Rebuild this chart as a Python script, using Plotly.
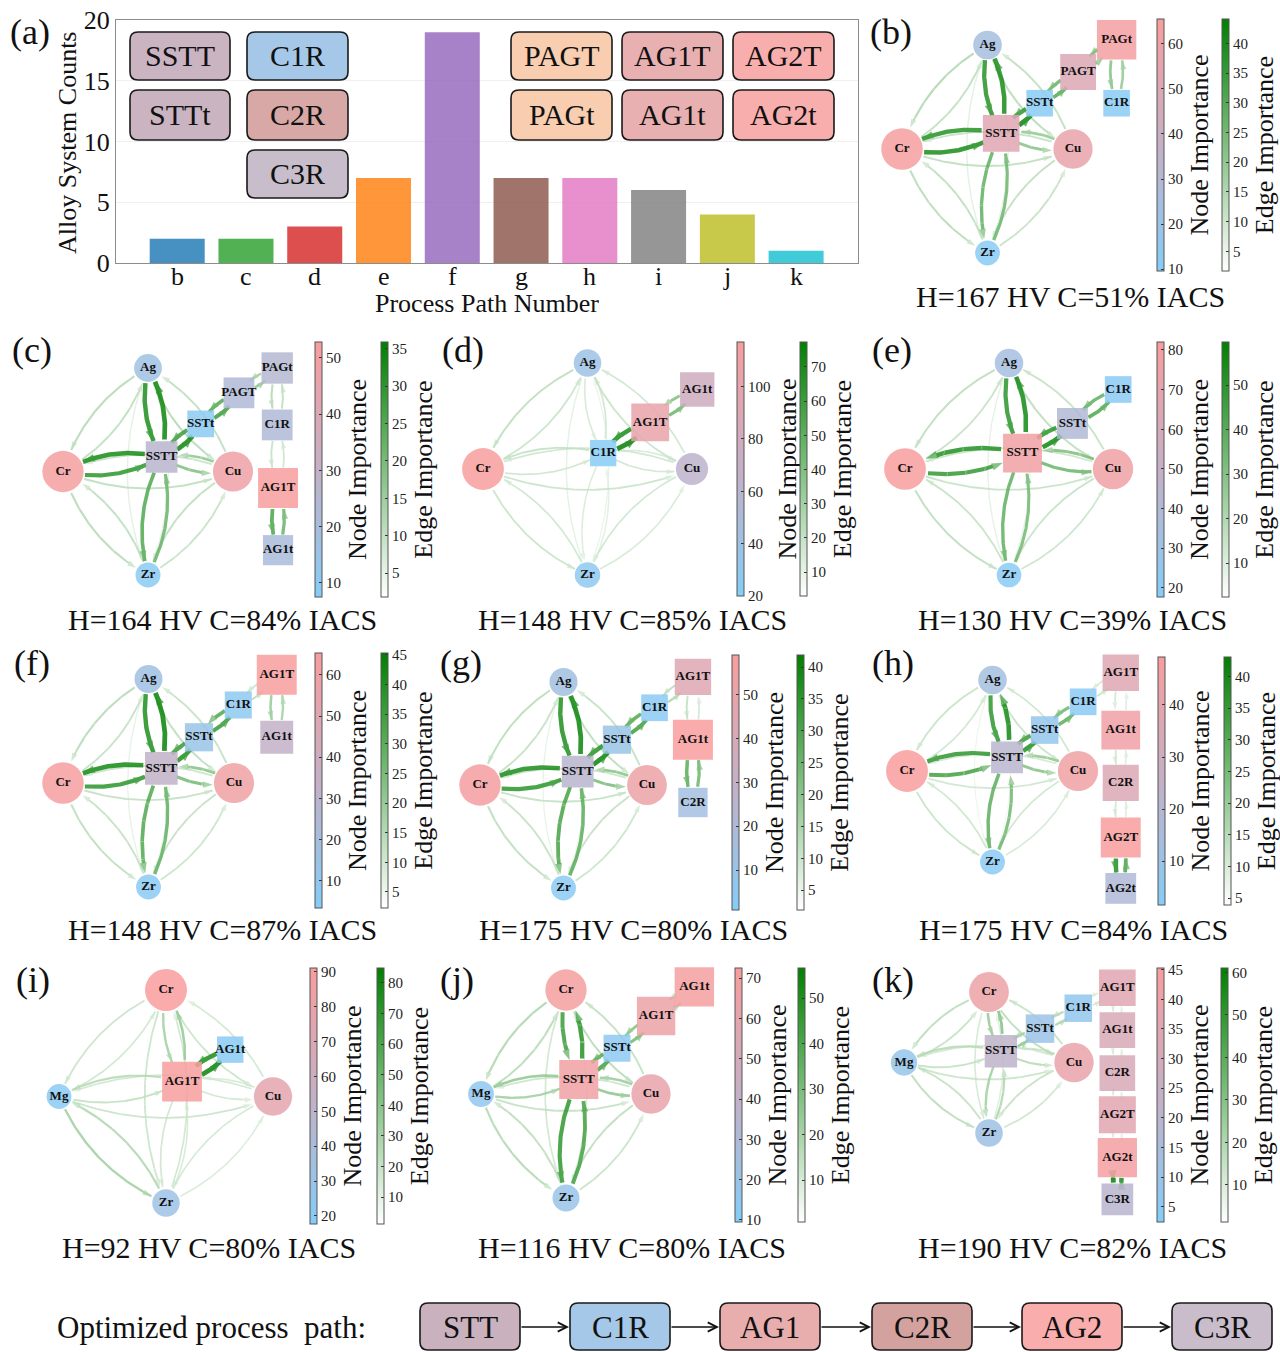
import math
import plotly.graph_objects as go
from plotly.colors import sample_colorscale

W, H = 1280, 1352
SERIF = "Liberation Serif, Times New Roman, serif"

# ---------------- (a) process-path statistics ----------------
path_ids = ['b', 'c', 'd', 'e', 'f', 'g', 'h', 'i', 'j', 'k']
path_counts = [2, 2, 3, 7, 19, 7, 7, 6, 4, 1]
path_colors = ['#1f77b4', '#2ca02c', '#d62728', '#ff7f0e', '#9467bd',
               '#8c564b', '#e377c2', '#7f7f7f', '#bcbd22', '#17becf']

process_labels = ['SSTT', 'STTt', 'C1R', 'C2R', 'C3R',
                  'PAGT', 'PAGt', 'AG1T', 'AG1t', 'AG2T', 'AG2t']
process_fills = ['#cab4c1', '#cab4c1', '#a6c8e8', '#d7a8a5', '#c7bdcb',
                 '#f8cdb0', '#f8cdb0', '#e8b0b0', '#e8b0b0', '#f9aeae', '#f9aeae']

# ---------------- (b)-(k) process networks ----------------
# edge rows: (node_a, node_b, importance a->b, importance b->a)
b_nodes = ['Ag', 'Cr', 'Cu', 'Zr', 'SSTT', 'SSTt', 'PAGT', 'PAGt', 'C1R']
b_node_imp = [24, 64, 57, 12, 52, 12, 49, 63, 12]
b_edges = [('SSTT', 'Ag', 40, 38), ('SSTT', 'Cr', 38, 40), ('SSTT', 'Cu', 22, 20),
           ('SSTT', 'Zr', 28, 26), ('SSTT', 'SSTt', 42, 36), ('SSTt', 'PAGT', 30, 27),
           ('PAGT', 'PAGt', 27, 25), ('PAGt', 'C1R', 22, 20),
           ('Ag', 'Cr', 15, 13), ('Ag', 'Cu', 14, 13), ('Ag', 'Zr', 7, 6),
           ('Cr', 'Cu', 13, 12), ('Cr', 'Zr', 14, 13), ('Cu', 'Zr', 13, 12)]
b_node_range, b_node_ticks = [9.6, 65.5], [10, 20, 30, 40, 50, 60]
b_edge_range, b_edge_ticks = [1.7, 44.1], [5, 10, 15, 20, 25, 30, 35, 40]
b_caption = 'H=167 HV C=51% IACS'

c_nodes = ['Ag', 'Cr', 'Cu', 'Zr', 'SSTT', 'SSTt', 'PAGT', 'PAGt', 'C1R', 'AG1T', 'AG1t']
c_node_imp = [17, 51, 48, 10, 26, 10, 23, 25, 23, 52.5, 21]
c_edges = [('SSTT', 'Ag', 34, 32), ('SSTT', 'Cr', 33, 30), ('SSTT', 'Cu', 19, 17),
           ('SSTT', 'Zr', 25, 22), ('SSTT', 'SSTt', 34, 28), ('SSTt', 'PAGT', 28, 25),
           ('PAGT', 'PAGt', 17, 15), ('PAGt', 'C1R', 12, 11), ('C1R', 'AG1T', 10, 9),
           ('AG1T', 'AG1t', 26, 22),
           ('Ag', 'Cr', 12, 11), ('Ag', 'Cu', 12, 11), ('Ag', 'Zr', 6, 5),
           ('Cr', 'Cu', 11, 10), ('Cr', 'Zr', 12, 11), ('Cu', 'Zr', 11, 10)]
c_node_range, c_node_ticks = [7.5, 52.8], [10, 20, 30, 40, 50]
c_edge_range, c_edge_ticks = [1.8, 35.9], [5, 10, 15, 20, 25, 30, 35]
c_caption = 'H=164 HV C=84% IACS'

d_nodes = ['Ag', 'Cr', 'Cu', 'Zr', 'C1R', 'AG1T', 'AG1t']
d_node_imp = [39, 116, 64, 28, 22, 102, 78]
d_edges = [('C1R', 'AG1T', 76, 70), ('AG1T', 'AG1t', 46, 40),
           ('C1R', 'Ag', 18, 16), ('C1R', 'Cr', 21, 18), ('C1R', 'Cu', 18, 16),
           ('C1R', 'Zr', 15, 13),
           ('Ag', 'Cr', 23, 20), ('Ag', 'Cu', 20, 18), ('Ag', 'Zr', 12, 10),
           ('Cr', 'Cu', 20, 18), ('Cr', 'Zr', 20, 18), ('Cu', 'Zr', 18, 16)]
d_node_range, d_node_ticks = [20, 117], [20, 40, 60, 80, 100]
d_edge_range, d_edge_ticks = [3, 77.3], [10, 20, 30, 40, 50, 60, 70]
d_caption = 'H=148 HV C=85% IACS'

e_nodes = ['Ag', 'Cr', 'Cu', 'Zr', 'SSTT', 'SSTt', 'C1R']
e_node_imp = [34, 81, 76, 20, 77, 40, 21]
e_edges = [('SSTT', 'Ag', 55, 50), ('SSTT', 'Cr', 52, 48), ('SSTT', 'Cu', 36, 32),
           ('SSTT', 'Zr', 38, 34), ('SSTT', 'SSTt', 56, 50), ('SSTt', 'C1R', 42, 38),
           ('Ag', 'Cr', 18, 16), ('Ag', 'Cu', 18, 16), ('Ag', 'Zr', 9, 8),
           ('Cr', 'Cu', 16, 15), ('Cr', 'Zr', 18, 16), ('Cu', 'Zr', 16, 15)]
e_node_range, e_node_ticks = [17.7, 82], [20, 30, 40, 50, 60, 70, 80]
e_edge_range, e_edge_ticks = [2.4, 59.7], [10, 20, 30, 40, 50]
e_caption = 'H=130 HV C=39% IACS'

f_nodes = ['Ag', 'Cr', 'Cu', 'Zr', 'SSTT', 'SSTt', 'C1R', 'AG1T', 'AG1t']
f_node_imp = [17, 63.5, 59, 6.5, 33, 13, 8, 65, 34]
f_edges = [('SSTT', 'Ag', 44, 40), ('SSTT', 'Cr', 42, 38), ('SSTT', 'Cu', 26, 23),
           ('SSTT', 'Zr', 32, 29), ('SSTT', 'SSTt', 40, 36), ('SSTt', 'C1R', 36, 32),
           ('C1R', 'AG1T', 14, 12), ('AG1T', 'AG1t', 20, 18),
           ('Ag', 'Cr', 15, 13), ('Ag', 'Cu', 14, 13), ('Ag', 'Zr', 7, 6),
           ('Cr', 'Cu', 13, 12), ('Cr', 'Zr', 14, 13), ('Cu', 'Zr', 13, 12)]
f_node_range, f_node_ticks = [3.4, 65.3], [10, 20, 30, 40, 50, 60]
f_edge_range, f_edge_ticks = [2.3, 45.3], [5, 10, 15, 20, 25, 30, 35, 40, 45]
f_caption = 'H=148 HV C=87% IACS'

g_nodes = ['Ag', 'Cr', 'Cu', 'Zr', 'SSTT', 'SSTt', 'C1R', 'AG1T', 'AG1t', 'C2R']
g_node_imp = [14, 57, 52, 4, 25, 10, 4, 44, 59, 15]
g_edges = [('SSTT', 'Ag', 40, 37), ('SSTT', 'Cr', 38, 35), ('SSTT', 'Cu', 23, 21),
           ('SSTT', 'Zr', 31, 28), ('SSTT', 'SSTt', 40, 36), ('SSTt', 'C1R', 32, 29),
           ('C1R', 'AG1T', 15, 13), ('AG1T', 'AG1t', 12, 10), ('AG1t', 'C2R', 28, 25),
           ('Ag', 'Cr', 13, 12), ('Ag', 'Cu', 13, 12), ('Ag', 'Zr', 6, 5),
           ('Cr', 'Cu', 12, 11), ('Cr', 'Zr', 13, 12), ('Cu', 'Zr', 12, 11)]
g_node_range, g_node_ticks = [0.9, 59], [10, 20, 30, 40, 50]
g_edge_range, g_edge_ticks = [1.9, 41.9], [5, 10, 15, 20, 25, 30, 35, 40]
g_caption = 'H=175 HV C=80% IACS'

h_nodes = ['Ag', 'Cr', 'Cu', 'Zr', 'SSTT', 'SSTt', 'C1R', 'AG1T', 'AG1t', 'C2R', 'AG2T', 'AG2t']
h_node_imp = [13.5, 49, 44.5, 4, 21.5, 7, 4, 37, 45, 36, 49, 18]
h_edges = [('SSTT', 'Ag', 40, 36), ('SSTT', 'Cr', 36, 33), ('SSTT', 'Cu', 23, 21),
           ('SSTT', 'Zr', 29, 26), ('SSTT', 'SSTt', 38, 34), ('SSTt', 'C1R', 29, 26),
           ('C1R', 'AG1T', 13, 11), ('AG1T', 'AG1t', 12, 10), ('AG1t', 'C2R', 12, 10),
           ('C2R', 'AG2T', 12, 10), ('AG2T', 'AG2t', 38, 32),
           ('Ag', 'Cr', 13, 12), ('Ag', 'Cu', 13, 12), ('Ag', 'Zr', 7, 6),
           ('Cr', 'Cu', 12, 11), ('Cr', 'Zr', 13, 12), ('Cu', 'Zr', 12, 11)]
h_node_range, h_node_ticks = [1.6, 49.2], [10, 20, 30, 40]
h_edge_range, h_edge_ticks = [3.9, 43.1], [5, 10, 15, 20, 25, 30, 35, 40]
h_caption = 'H=175 HV C=84% IACS'

i_nodes = ['Cr', 'Mg', 'Cu', 'Zr', 'AG1T', 'AG1t']
i_node_imp = [91, 21, 76, 32, 90, 20]
i_edges = [('AG1T', 'AG1t', 82, 76), ('AG1T', 'Cr', 36, 32), ('AG1T', 'Mg', 26, 22),
           ('AG1T', 'Cu', 18, 16), ('AG1T', 'Zr', 18, 16),
           ('Cr', 'Mg', 20, 18), ('Cr', 'Cu', 20, 18), ('Cr', 'Zr', 20, 18),
           ('Mg', 'Cu', 20, 18), ('Mg', 'Zr', 32, 28), ('Cu', 'Zr', 17, 15)]
i_node_range, i_node_ticks = [17.7, 91.1], [20, 30, 40, 50, 60, 70, 80, 90]
i_edge_range, i_edge_ticks = [1.2, 84.9], [10, 20, 30, 40, 50, 60, 70, 80]
i_caption = 'H=92 HV C=80% IACS'

j_nodes = ['Cr', 'Mg', 'Cu', 'Zr', 'SSTT', 'SSTt', 'AG1T', 'AG1t']
j_node_imp = [70, 16, 63, 20, 68, 14, 65, 70]
j_edges = [('SSTT', 'Cr', 48, 44), ('SSTT', 'Mg', 25, 22), ('SSTT', 'Cu', 26, 23),
           ('SSTT', 'Zr', 46, 42), ('SSTT', 'SSTt', 42, 38), ('SSTt', 'AG1T', 32, 28),
           ('AG1T', 'AG1t', 22, 18),
           ('Cr', 'Mg', 19, 17), ('Cr', 'Cu', 17, 15), ('Cr', 'Zr', 12, 10),
           ('Mg', 'Cu', 15, 13), ('Mg', 'Zr', 18, 16), ('Cu', 'Zr', 16, 14)]
j_node_range, j_node_ticks = [9.5, 72.5], [10, 20, 30, 40, 50, 60, 70]
j_edge_range, j_edge_ticks = [0.8, 56.6], [10, 20, 30, 40, 50]
j_caption = 'H=116 HV C=80% IACS'

k_nodes = ['Cr', 'Mg', 'Cu', 'Zr', 'SSTT', 'SSTt', 'C1R', 'AG1T', 'AG1t', 'C2R', 'AG2T', 'AG2t', 'C3R']
k_node_imp = [40, 8, 39, 11, 22, 10, 7, 35, 32, 32, 36, 43, 20]
k_edges = [('SSTT', 'Cr', 30, 26), ('SSTT', 'Mg', 19, 16), ('SSTT', 'Cu', 19, 16),
           ('SSTT', 'Zr', 24, 21), ('SSTT', 'SSTt', 28, 24), ('SSTt', 'C1R', 22, 20),
           ('C1R', 'AG1T', 13, 11), ('AG1T', 'AG1t', 12, 10), ('AG1t', 'C2R', 12, 10),
           ('C2R', 'AG2T', 12, 10), ('AG2T', 'AG2t', 12, 10), ('AG2t', 'C3R', 60, 55),
           ('Cr', 'Mg', 18, 16), ('Cr', 'Cu', 18, 16), ('Cr', 'Zr', 12, 10),
           ('Mg', 'Cu', 15, 13), ('Mg', 'Zr', 18, 16), ('Cu', 'Zr', 16, 14)]
k_node_range, k_node_ticks = [2.4, 45.3], [5, 10, 15, 20, 25, 30, 35, 40, 45]
k_edge_range, k_edge_ticks = [1.3, 61], [10, 20, 30, 40, 50, 60]
k_caption = 'H=190 HV C=82% IACS'

optimized_steps = ['STT', 'C1R', 'AG1', 'C2R', 'AG2', 'C3R']
optimized_fills = ['#c9b2be', '#a6c8e8', '#e8adad', '#d4a29e', '#f9adad', '#c9bdcc']

# ---------------- styling ----------------
NODE_SCALE = [[0, '#84cdf8'], [0.5, '#c4b0c6'], [1, '#f99d9d']]
EDGE_SCALE = [[0, '#ffffff'], [1, '#008000']]
ELEMENTS = {'Ag', 'Cr', 'Cu', 'Zr', 'Mg'}

DIAMOND_AG = {'Ag': (0, 1), 'Cr': (-1, 0), 'Cu': (1, 0), 'Zr': (0, -1)}
DIAMOND_CR = {'Cr': (0, 1), 'Mg': (-1, 0), 'Cu': (1, 0), 'Zr': (0, -1)}


def layout_pos(base, extra):
    p = dict(base)
    p.update(extra)
    return p


PANELS = [
    dict(tag='(b)', nodes=b_nodes, imp=b_node_imp, edges=b_edges, nr=b_node_range, nt=b_node_ticks,
         er=b_edge_range, et=b_edge_ticks, cap=b_caption,
         pos=layout_pos(DIAMOND_AG, {'SSTT': (0.16, 0.15), 'SSTt': (0.61, 0.44), 'PAGT': (1.06, 0.74),
                                     'PAGt': (1.51, 1.05), 'C1R': (1.51, 0.44)}),
         frame=(987.5, 149, 85.5, 104), cell=(862, 1150, 2, 284), cb=(1157, 1222, 19, 271),
         cap_xy=(1070, 296), tag_xy=(868, 32)),
    dict(tag='(c)', nodes=c_nodes, imp=c_node_imp, edges=c_edges, nr=c_node_range, nt=c_node_ticks,
         er=c_edge_range, et=c_edge_ticks, cap=c_caption,
         pos=layout_pos(DIAMOND_AG, {'SSTT': (0.16, 0.14), 'SSTt': (0.62, 0.46), 'PAGT': (1.07, 0.76),
                                     'PAGt': (1.52, 1.0), 'C1R': (1.52, 0.45), 'AG1T': (1.53, -0.16),
                                     'AG1t': (1.53, -0.76)}),
         frame=(148, 471.5, 85, 103.5), cell=(2, 312, 336, 600), cb=(315, 381, 342, 597),
         cap_xy=(222, 619), tag_xy=(10, 350)),
    dict(tag='(d)', nodes=d_nodes, imp=d_node_imp, edges=d_edges, nr=d_node_range, nt=d_node_ticks,
         er=d_edge_range, et=d_edge_ticks, cap=d_caption,
         pos=layout_pos(DIAMOND_AG, {'C1R': (0.15, 0.15), 'AG1T': (0.6, 0.44), 'AG1t': (1.05, 0.75)}),
         frame=(587.5, 469, 104.5, 106), cell=(436, 734, 336, 600), cb=(737, 800, 342, 596),
         cap_xy=(632, 619), tag_xy=(440, 350)),
    dict(tag='(e)', nodes=e_nodes, imp=e_node_imp, edges=e_edges, nr=e_node_range, nt=e_node_ticks,
         er=e_edge_range, et=e_edge_ticks, cap=e_caption,
         pos=layout_pos(DIAMOND_AG, {'SSTT': (0.13, 0.15), 'SSTt': (0.61, 0.43), 'C1R': (1.05, 0.75)}),
         frame=(1009, 469, 104, 106), cell=(862, 1154, 336, 600), cb=(1157, 1222, 342, 597),
         cap_xy=(1072, 619), tag_xy=(870, 350)),
    dict(tag='(f)', nodes=f_nodes, imp=f_node_imp, edges=f_edges, nr=f_node_range, nt=f_node_ticks,
         er=f_edge_range, et=f_edge_ticks, cap=f_caption,
         pos=layout_pos(DIAMOND_AG, {'SSTT': (0.15, 0.14), 'SSTt': (0.59, 0.44), 'C1R': (1.05, 0.75),
                                     'AG1T': (1.5, 1.04), 'AG1t': (1.5, 0.44)}),
         frame=(148.5, 783, 85.5, 104), cell=(2, 312, 646, 910), cb=(315, 381, 653, 908),
         cap_xy=(222, 929), tag_xy=(12, 663)),
    dict(tag='(g)', nodes=g_nodes, imp=g_node_imp, edges=g_edges, nr=g_node_range, nt=g_node_ticks,
         er=g_edge_range, et=g_edge_ticks, cap=g_caption,
         pos=layout_pos(DIAMOND_AG, {'SSTT': (0.17, 0.13), 'SSTt': (0.64, 0.44), 'C1R': (1.09, 0.75),
                                     'AG1T': (1.55, 1.05), 'AG1t': (1.55, 0.44), 'C2R': (1.55, -0.17)}),
         frame=(563.5, 785, 83.5, 103), cell=(436, 730, 646, 912), cb=(732, 797, 655, 910),
         cap_xy=(633, 929), tag_xy=(438, 663)),
    dict(tag='(h)', nodes=h_nodes, imp=h_node_imp, edges=h_edges, nr=h_node_range, nt=h_node_ticks,
         er=h_edge_range, et=h_edge_ticks, cap=h_caption,
         pos=layout_pos(DIAMOND_AG, {'SSTT': (0.17, 0.15), 'SSTt': (0.61, 0.45), 'C1R': (1.06, 0.76),
                                     'AG1T': (1.5, 1.08), 'AG1t': (1.5, 0.45), 'C2R': (1.5, -0.13),
                                     'AG2T': (1.5, -0.73), 'AG2t': (1.5, -1.29)}),
         frame=(992.5, 771, 85.5, 91), cell=(862, 1155, 646, 910), cb=(1158, 1224, 657, 905),
         cap_xy=(1073, 929), tag_xy=(870, 663)),
    dict(tag='(i)', nodes=i_nodes, imp=i_node_imp, edges=i_edges, nr=i_node_range, nt=i_node_ticks,
         er=i_edge_range, et=i_edge_ticks, cap=i_caption,
         pos=layout_pos(DIAMOND_CR, {'AG1T': (0.15, 0.14), 'AG1t': (0.6, 0.44)}),
         frame=(166, 1096.5, 107, 106.5), cell=(2, 307, 962, 1228), cb=(310, 377, 968, 1224),
         cap_xy=(209, 1247), tag_xy=(14, 980)),
    dict(tag='(j)', nodes=j_nodes, imp=j_node_imp, edges=j_edges, nr=j_node_range, nt=j_node_ticks,
         er=j_edge_range, et=j_edge_ticks, cap=j_caption,
         pos=layout_pos(DIAMOND_CR, {'SSTT': (0.15, 0.14), 'SSTt': (0.6, 0.44), 'AG1T': (1.06, 0.75),
                                     'AG1t': (1.51, 1.03)}),
         frame=(566, 1094, 85, 104), cell=(436, 732, 962, 1228), cb=(735, 798, 968, 1222),
         cap_xy=(632, 1247), tag_xy=(438, 980)),
    dict(tag='(k)', nodes=k_nodes, imp=k_node_imp, edges=k_edges, nr=k_node_range, nt=k_node_ticks,
         er=k_edge_range, et=k_edge_ticks, cap=k_caption,
         pos=layout_pos(DIAMOND_CR, {'SSTT': (0.14, 0.16), 'SSTt': (0.6, 0.48), 'C1R': (1.05, 0.77),
                                     'AG1T': (1.51, 1.06), 'AG1t': (1.51, 0.46), 'C2R': (1.51, -0.15),
                                     'AG2T': (1.51, -0.74), 'AG2t': (1.51, -1.35), 'C3R': (1.51, -1.94)}),
         frame=(989, 1062.5, 85, 70.5), cell=(862, 1154, 962, 1228), cb=(1157, 1221, 968, 1222),
         cap_xy=(1072, 1247), tag_xy=(870, 980)),
]


def clamp01(t):
    return max(0.0, min(1.0, t))


def node_size(v, lo, hi, elem):
    t = clamp01((v - lo) / (hi - lo))
    return 24 + 18 * t if elem else 26 + 14 * t


def arc_points(p, q, rs, rt, sx, sy, rad=0.2, n=80):
    """Quadratic arc (matplotlib arc3 style) between two nodes, trimmed at node borders."""
    X1, Y1 = p[0] * sx, p[1] * sy
    X2, Y2 = q[0] * sx, q[1] * sy
    mx, my = (X1 + X2) / 2, (Y1 + Y2) / 2
    dx, dy = X2 - X1, Y2 - Y1
    kx, ky = mx + rad * dy, my - rad * dx
    xs, ys = [], []
    for i in range(n + 1):
        t = i / n
        bx = (1 - t) ** 2 * X1 + 2 * (1 - t) * t * kx + t * t * X2
        by = (1 - t) ** 2 * Y1 + 2 * (1 - t) * t * ky + t * t * Y2
        if math.hypot(bx - X1, by - Y1) < rs or math.hypot(bx - X2, by - Y2) < rt:
            continue
        xs.append(bx / sx)
        ys.append(by / sy)
    return xs, ys


def colorbar(left, top, bottom, ticks, title):
    return dict(x=left / W, xanchor='left', y=1 - top / H, yanchor='top',
                len=bottom - top, lenmode='pixels', thickness=7, thicknessmode='pixels',
                xpad=0, ypad=0, outlinewidth=1, outlinecolor='#555555',
                tickvals=ticks, ticks='inside', ticklen=3, tickcolor='#333333',
                tickfont=dict(family=SERIF, size=15, color='#222222'),
                title=dict(text=title, side='right', font=dict(family=SERIF, size=26, color='#111111')))


def rounded_box(x0, y0, x1, y1, r=8):
    P = lambda x, y: f"{x / W:.5f},{1 - y / H:.5f}"
    return (f"M{P(x0 + r, y0)} L{P(x1 - r, y0)} Q{P(x1, y0)} {P(x1, y0 + r)} "
            f"L{P(x1, y1 - r)} Q{P(x1, y1)} {P(x1 - r, y1)} L{P(x0 + r, y1)} "
            f"Q{P(x0, y1)} {P(x0, y1 - r)} L{P(x0, y0 + r)} Q{P(x0, y0)} {P(x0 + r, y0)} Z")


fig = go.Figure()
shapes, annotations = [], []

layout = dict(width=W, height=H, margin=dict(l=0, r=0, t=0, b=0, autoexpand=False),
              paper_bgcolor='white', plot_bgcolor='white', showlegend=False,
              font=dict(family=SERIF, color='#111111'))

# ---------------- (a) bars ----------------
fig.add_trace(go.Bar(x=path_ids, y=path_counts, width=0.8,
                     marker=dict(color=path_colors, opacity=0.82, line=dict(width=0)),
                     xaxis='x', yaxis='y', hoverinfo='skip'))
layout['xaxis'] = dict(domain=[116 / W, 858 / W], range=[-0.89, 9.9], type='category',
                       showline=True, mirror=True, linecolor='#8c8c8c', linewidth=1.2,
                       ticks='', showgrid=False, showticklabels=False,
                       anchor='y', fixedrange=True)
layout['yaxis'] = dict(domain=[1 - 263 / H, 1 - 20 / H], range=[0, 20], tickvals=[0, 5, 10, 15, 20],
                       showline=True, mirror=True, linecolor='#8c8c8c', linewidth=1.2,
                       ticks='', showgrid=True, gridcolor='#efefef', zeroline=False,
                       tickfont=dict(family=SERIF, size=26, color='#111'), anchor='x', fixedrange=True)
for pid in path_ids:
    annotations.append(dict(text=pid, x=pid, y=1 - 277 / H, xref='x', yref='paper', showarrow=False,
                            font=dict(family=SERIF, size=26), xanchor='center', yanchor='middle'))
annotations.append(dict(text='Process Path Number', x=487 / W, y=1 - 303 / H, xref='paper', yref='paper',
                        showarrow=False, font=dict(family=SERIF, size=26), xanchor='center', yanchor='middle'))
annotations.append(dict(text='Alloy System Counts', x=68 / W, y=1 - 143 / H, xref='paper', yref='paper',
                        showarrow=False, textangle=-90, font=dict(family=SERIF, size=26),
                        xanchor='center', yanchor='middle'))
annotations.append(dict(text='(a)', x=8 / W, y=1 - 32 / H, xref='paper', yref='paper', showarrow=False,
                        font=dict(family=SERIF, size=36), xanchor='left', yanchor='middle'))

legend_boxes = [(130, 230, 32, 80), (130, 230, 90, 140), (247, 348, 32, 80), (247, 348, 90, 140),
                (247, 348, 150, 198), (511, 612, 32, 80), (511, 612, 90, 140), (622, 723, 32, 80),
                (622, 723, 90, 140), (733, 834, 32, 80), (733, 834, 90, 140)]
for (x0, x1, y0, y1), lab, fill in zip(legend_boxes, process_labels, process_fills):
    shapes.append(dict(type='path', path=rounded_box(x0, y0, x1, y1), xref='paper', yref='paper',
                       fillcolor=fill, line=dict(color='#1a1a1a', width=1.6), layer='above'))
    annotations.append(dict(text=lab, x=(x0 + x1) / 2 / W, y=1 - (y0 + y1) / 2 / H, xref='paper', yref='paper',
                            showarrow=False, font=dict(family=SERIF, size=30), xanchor='center',
                            yanchor='middle'))

# ---------------- (b)-(k) networks ----------------
for idx, P in enumerate(PANELS):
    ax = idx + 2
    xr, yr = f'x{ax}', f'y{ax}'
    cx, cy, sx, sy = P['frame']
    x0, x1, y0, y1 = P['cell']
    layout[f'xaxis{ax}'] = dict(domain=[x0 / W, x1 / W], range=[(x0 - cx) / sx, (x1 - cx) / sx],
                                visible=False, anchor=yr, fixedrange=True)
    layout[f'yaxis{ax}'] = dict(domain=[1 - y1 / H, 1 - y0 / H], range=[(cy - y1) / sy, (cy - y0) / sy],
                                visible=False, anchor=xr, fixedrange=True)
    pos = P['pos']
    nlo, nhi = P['nr']
    elo, ehi = P['er']
    sizes = {n: node_size(v, nlo, nhi, n in ELEMENTS) for n, v in zip(P['nodes'], P['imp'])}

    directed = []
    for a, b, wab, wba in P['edges']:
        directed.append((a, b, wab))
        directed.append((b, a, wba))
    directed.sort(key=lambda e: e[2])
    for s, t, w in directed:
        xs, ys = arc_points(pos[s], pos[t], sizes[s] / 2 + 1, sizes[t] / 2 + 1, sx, sy)
        if len(xs) < 2:
            continue
        tn = clamp01((w - elo) / (ehi - elo))
        col = sample_colorscale(EDGE_SCALE, [tn])[0]
        fig.add_trace(go.Scatter(
            x=xs, y=ys, mode='lines+markers', xaxis=xr, yaxis=yr, hoverinfo='skip',
            line=dict(color=col, width=0.9 + 4.0 * tn),
            marker=dict(symbol='arrow', angleref='previous', color=col, line=dict(width=0),
                        size=[0] * (len(xs) - 1) + [7 + 6 * tn]),
            opacity=0.85, cliponaxis=False))

    # node markers carry the node-importance colour bar
    fig.add_trace(go.Scatter(
        x=[pos[n][0] for n in P['nodes']], y=[pos[n][1] for n in P['nodes']],
        mode='markers+text', xaxis=xr, yaxis=yr, hoverinfo='skip', cliponaxis=False,
        text=[f'<b>{n}</b>' for n in P['nodes']], textposition='middle center',
        textfont=dict(family=SERIF, size=13, color='#111111'),
        marker=dict(symbol=['circle' if n in ELEMENTS else 'square' for n in P['nodes']],
                    size=[sizes[n] for n in P['nodes']], color=P['imp'], colorscale=NODE_SCALE,
                    cmin=nlo, cmax=nhi, opacity=0.85, line=dict(width=0), showscale=True,
                    colorbar=colorbar(P['cb'][0], P['cb'][2], P['cb'][3], P['nt'], 'Node Importance'))))

    # edge-importance colour bar
    fig.add_trace(go.Scatter(
        x=[pos[P['nodes'][0]][0]], y=[pos[P['nodes'][0]][1]], mode='markers', xaxis=xr, yaxis=yr,
        hoverinfo='skip',
        marker=dict(size=1, opacity=0, color=[elo], colorscale=EDGE_SCALE, cmin=elo, cmax=ehi,
                    showscale=True,
                    colorbar=colorbar(P['cb'][1], P['cb'][2], P['cb'][3], P['et'], 'Edge Importance'))))

    annotations.append(dict(text=P['tag'], x=P['tag_xy'][0] / W, y=1 - P['tag_xy'][1] / H,
                            xref='paper', yref='paper', showarrow=False,
                            font=dict(family=SERIF, size=36), xanchor='left', yanchor='middle'))
    annotations.append(dict(text=P['cap'], x=P['cap_xy'][0] / W, y=1 - P['cap_xy'][1] / H,
                            xref='paper', yref='paper', showarrow=False,
                            font=dict(family=SERIF, size=30), xanchor='center', yanchor='middle'))

# ---------------- optimized path ----------------
annotations.append(dict(text='Optimized process\u00a0 path:', x=55 / W, y=1 - 1327 / H,
                        xref='paper', yref='paper', showarrow=False,
                        font=dict(family=SERIF, size=31), xanchor='left', yanchor='middle'))
step_x = [420, 570, 720, 872, 1022, 1172]
step_w = 100
for i, (lab, fill, sx0) in enumerate(zip(optimized_steps, optimized_fills, step_x)):
    shapes.append(dict(type='path', path=rounded_box(sx0, 1303, sx0 + step_w, 1350), xref='paper',
                       yref='paper', fillcolor=fill, line=dict(color='#1a1a1a', width=1.6)))
    annotations.append(dict(text=lab, x=(sx0 + step_w / 2) / W, y=1 - 1327 / H, xref='paper',
                            yref='paper', showarrow=False, font=dict(family=SERIF, size=31),
                            xanchor='center', yanchor='middle'))
    if i < len(step_x) - 1:
        tail = sx0 + step_w
        tip = step_x[i + 1] - 1
        annotations.append(dict(text='', x=tip / W, y=1 - 1327 / H, xref='paper', yref='paper',
                                ax=-(tip - tail), ay=0, axref='pixel', ayref='pixel', showarrow=True,
                                arrowhead=5, arrowsize=1.3, arrowwidth=1.4, arrowcolor='#111111',
                                standoff=0))

layout['shapes'] = shapes
layout['annotations'] = annotations
fig.update_layout(**layout)
fig.write_html("out.html")
